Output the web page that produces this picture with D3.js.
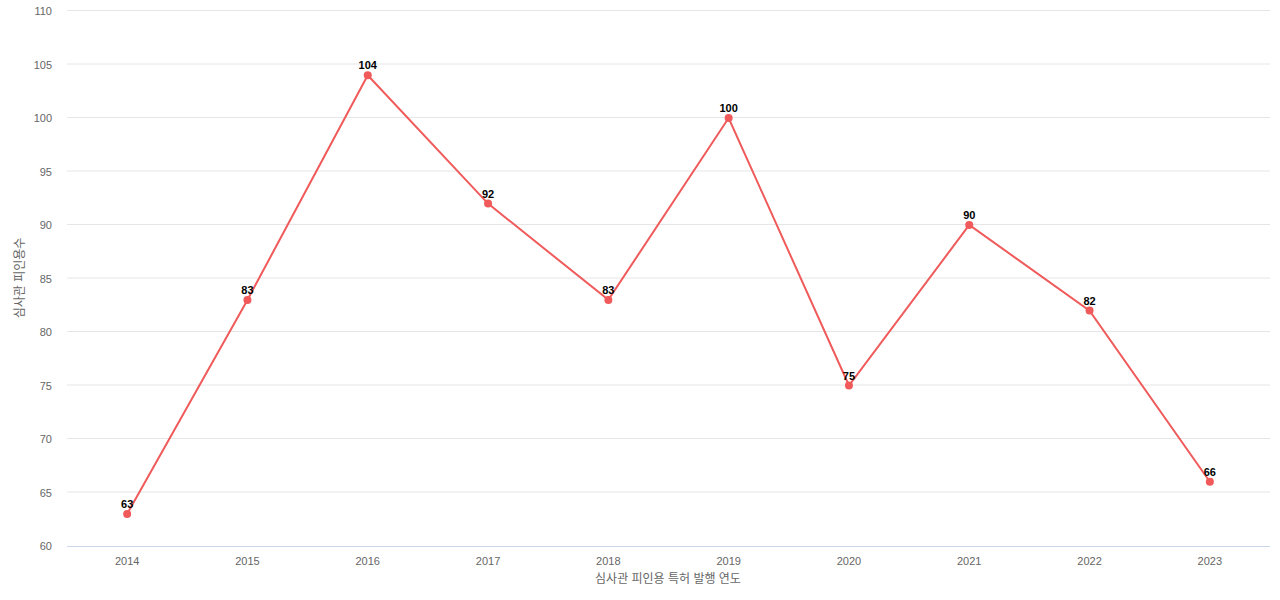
<!DOCTYPE html>
<html><head><meta charset="utf-8">
<script src="https://cdn.jsdelivr.net/npm/d3@7/dist/d3.min.js"></script>
<style>body{margin:0;background:#fff;font-family:"Liberation Sans","Noto Sans CJK KR",sans-serif}</style>
</head><body><svg id="c" width="1280" height="600"></svg>
<script>
// data
var years = ['2014','2015','2016','2017','2018','2019','2020','2021','2022','2023'];
var counts = [63, 83, 104, 92, 83, 100, 75, 90, 82, 66];
var yTicks = [60, 65, 70, 75, 80, 85, 90, 95, 100, 105, 110];

var svg = d3.select('#c');
var plotLeft = 67, plotRight = 1270, plotTop = 11, plotBottom = 546;

var x = d3.scaleBand().domain(years).range([plotLeft, plotRight]);
var y = d3.scaleLinear().domain([60, 110]).range([plotBottom, plotTop]);
var cx = function (d) { return x(d) + x.bandwidth() / 2; };

//grid
svg.append('g').selectAll('line').data(yTicks.slice(1)).enter().append('line')
	.attr('x1', plotLeft).attr('x2', plotRight)
	.attr('y1', function (d) { return y(d) - 0.5; }).attr('y2', function (d) { return y(d) - 0.5; })
	.attr('stroke', '#e6e6e6');
svg.append('line').attr('x1', plotLeft).attr('x2', plotRight).attr('y1', plotBottom + 0.5).attr('y2', plotBottom + 0.5).attr('stroke', '#ccd6eb');

//axis labels
svg.append('g').selectAll('text').data(yTicks).enter().append('text')
	.attr('x', 52).attr('y', function (d) { return y(d) + 4; })
	.attr('text-anchor', 'end').attr('font-size', 11).attr('fill', '#666').text(function (d) { return d; });
svg.append('g').selectAll('text').data(years).enter().append('text')
	.attr('x', cx).attr('y', 565).attr('text-anchor', 'middle')
	.attr('font-size', 11).attr('fill', '#666').text(function (d) { return d; });

svg.append('text').attr('x', 668).attr('y', 583).attr('text-anchor', 'middle')
	.attr('font-size', 12).attr('fill', '#666').text('심사관 피인용 특허 발행 연도');
svg.append('text').attr('transform', 'translate(24,278) rotate(-90)').attr('text-anchor', 'middle')
	.attr('font-size', 12).attr('fill', '#666').text('심사관 피인용수');

//line
var line = d3.line().x(function (d, i) { return cx(years[i]); }).y(function (d) { return y(d); });
svg.append('path').datum(counts).attr('d', line).attr('fill', 'none')
	.attr('stroke', '#f05a5a').attr('stroke-width', 2);
svg.append('g').selectAll('circle').data(counts).enter().append('circle')
	.attr('cx', function (d, i) { return cx(years[i]); }).attr('cy', function (d) { return y(d); })
	.attr('r', 4).attr('fill', '#f05a5a');
svg.append('g').selectAll('text').data(counts).enter().append('text')
	.attr('x', function (d, i) { return cx(years[i]); }).attr('y', function (d) { return y(d) - 6; })
	.attr('text-anchor', 'middle').attr('font-size', 11).attr('font-weight', 'bold')
	.attr('fill', '#000').text(function (d) { return d; });
</script></body></html>
